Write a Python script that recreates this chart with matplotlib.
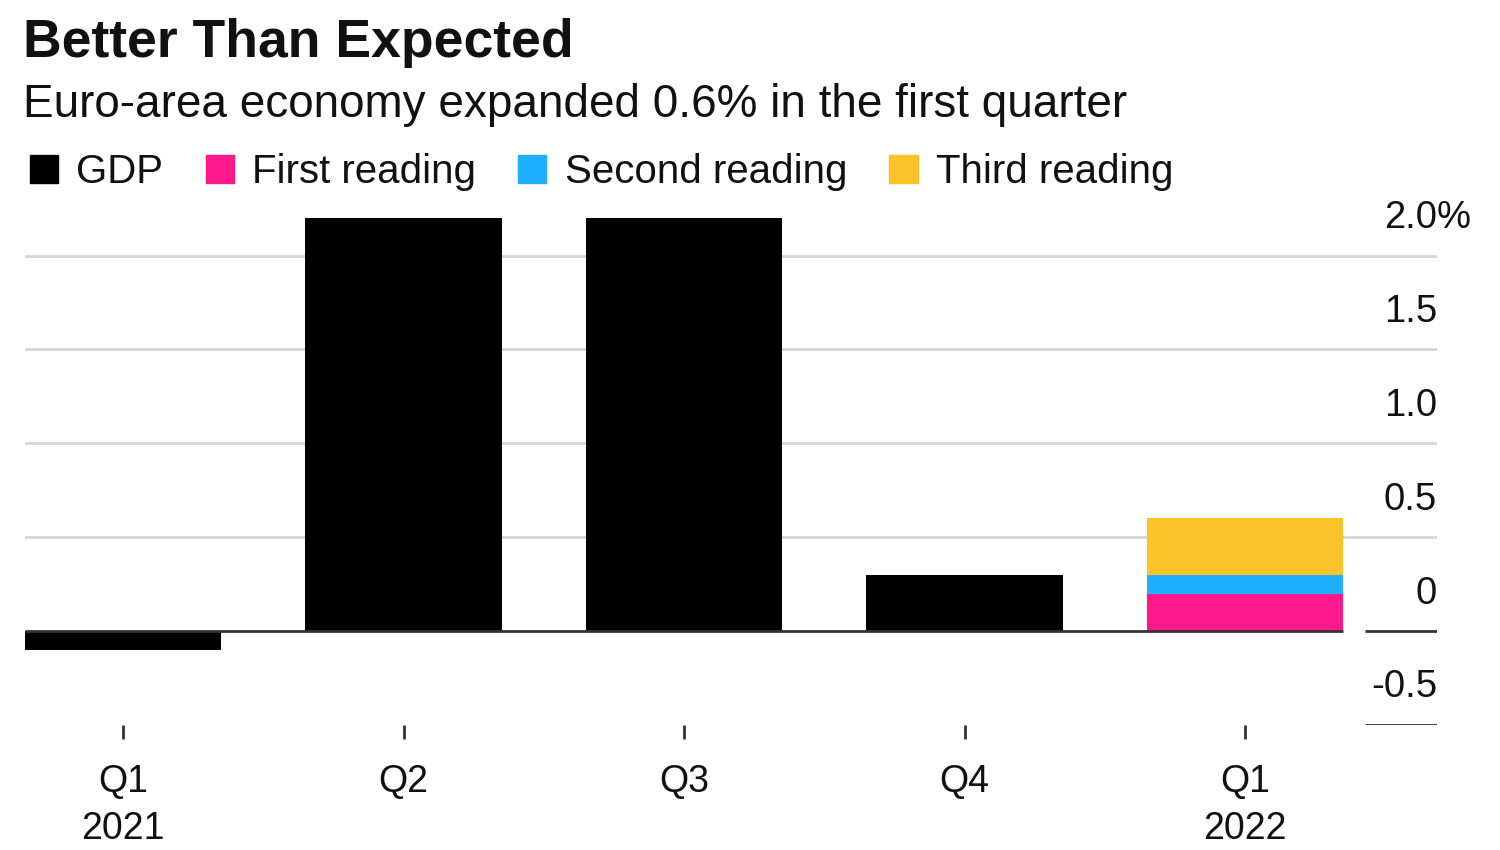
import matplotlib.pyplot as plt
from matplotlib.patches import Patch
import numpy as np

plt.rcParams['font.family'] = ['Liberation Sans', 'DejaVu Sans']

# data
quarters = ['Q1\n2021', 'Q2', 'Q3', 'Q4', 'Q1\n2022']
gdp = [-0.1, 2.2, 2.2, 0.3, np.nan]
# successive readings for Q1 2022
first_reading = 0.2
second_reading = 0.3
third_reading = 0.6
y_ticks = [-0.5, 0, 0.5, 1.0, 1.5, 2.0]
y_labels = ['-0.5', '0', '0.5', '1.0', '1.5', '2.0']

c_gdp = '#000000'
c_first = '#ff1a8c'
c_second = '#1eb0fc'
c_third = '#fdc12a'

fig = plt.figure(figsize=(15, 8.5), dpi=100)
ax = fig.add_axes([25/1500, 125/850, 1412/1500, 507/850])

x = np.arange(len(quarters))
w = 0.7
ax.bar(x, gdp, width=w, color=c_gdp, zorder=3)
last = x[-1]
ax.bar(last, first_reading, width=w, color=c_first, zorder=3)
ax.bar(last, second_reading - first_reading, bottom=first_reading, width=w, color=c_second, zorder=3)
ax.bar(last, third_reading - second_reading, bottom=second_reading, width=w, color=c_third, zorder=3)

x_left = -w / 2
x_right = 4.684
plot_right = last + w / 2
lab_left = 4.428
ax.set_xlim(x_left, x_right)
ax.set_ylim(-0.5, 2.2)

# gridlines
for v in y_ticks:
    if v > 0:
        ax.axhline(v, color='#d6d6d6', lw=2, zorder=1)
ax.hlines(0, x_left, plot_right, color='#333333', lw=2, zorder=4)
ax.hlines([0, -0.5], lab_left, x_right, color='#333333', lw=2, zorder=4)

# y labels sitting above their lines
for v, s in zip(y_ticks, y_labels):
    ax.text(x_right, v + 0.2, s, ha='right', va='center', fontsize=27.5, color='#111111')
ax.text(x_right, 2.2, '%', ha='left', va='center', fontsize=27.5, color='#111111')

for s in ax.spines.values():
    s.set_visible(False)
ax.set_yticks([])
ax.set_xticks(x)
ax.set_xticklabels(quarters, fontsize=27, linespacing=1.38)
ax.tick_params(axis='x', length=10, width=2, color='#333333', pad=18, labelcolor='#111111')

fig.text(23/1500, 1 - 57/850, 'Better Than Expected', fontsize=38.5, fontweight='bold',
         va='baseline', ha='left', color='#111111')
fig.text(23/1500, 1 - 117/850, 'Euro-area economy expanded 0.6% in the first quarter',
         fontsize=33, va='baseline', ha='left', color='#111111')

handles = [Patch(color=c_gdp, label='GDP'),
           Patch(color=c_first, label='First reading'),
           Patch(color=c_second, label='Second reading'),
           Patch(color=c_third, label='Third reading')]
fig.legend(handles=handles, loc='center left', bbox_to_anchor=(30/1500, 1 - 172/850),
           ncol=4, frameon=False, fontsize=29, handlelength=0.7, handleheight=0.7,
           handletextpad=0.45, columnspacing=1.05, borderpad=0, borderaxespad=0,
           labelcolor='#111111')

fig.savefig('out.png', dpi=100, facecolor='white')
